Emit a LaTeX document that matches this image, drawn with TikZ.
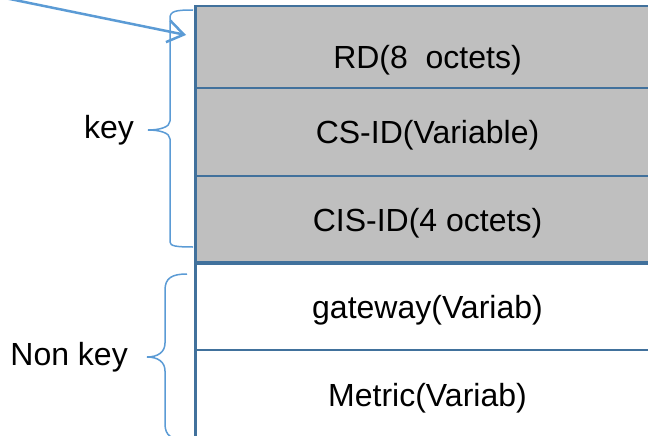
\documentclass[tikz,border=0pt]{standalone}
\usepackage{fontspec}
\setmainfont{Liberation Sans}
\usetikzlibrary{positioning,arrows.meta}
\definecolor{rowline}{HTML}{41719C}
\definecolor{rowgray}{HTML}{BFBFBF}
\definecolor{callout}{HTML}{5B9BD5}
\tikzset{
    field/.style={draw=rowline, line width=2.5pt, minimum width=465pt, inner sep=0pt,
        outer sep=0pt, anchor=north west, text height=23pt, text depth=0pt,
        font=\fontsize{32}{38}\selectfont},
    keyfield/.style={field, fill=rowgray},
    bracket/.style={draw=callout, line width=1.5pt},
    sidetext/.style={inner sep=0pt, font=\fontsize{32}{38}\selectfont},
}
\begin{document}
\begin{tikzpicture}[x=1pt,y=-1pt]
\useasboundingbox (0,0) rectangle (648,436);
% key fields
\node[keyfield, minimum height=82pt, text height=44pt] (rd) at (195,6) {RD(8\ \ octets)};
\node[keyfield, minimum height=88pt] (csid) at (rd.south west) {CS-ID(Variable)};
\node[keyfield, minimum height=87pt] (cisid) at (csid.south west) {CIS-ID(4 octets)};
% non key fields
\node[field, minimum height=87pt] (gateway) at (cisid.south west) {gateway(Variab)};
\node[field, minimum height=90pt] (metric) at (gateway.south west) {Metric(Variab)};
\draw[rowline, line width=4pt] (cisid.south west) -- (cisid.south east);
\draw[rowline, line width=3pt] (rd.north west) -- (metric.south west);

% braces
\coordinate (keytip) at (148,130);
\coordinate (nonkeytip) at (147,357);
\draw[bracket] (193,10) .. controls (176,10) and (170,11) .. (170,18) -- (170,121)
    .. controls (170,127) and (160,130) .. (keytip) .. controls (160,130) and (170,133) .. (170,139)
    -- (170,242) .. controls (170,246) and (176,247) .. (193,247);
\draw[bracket] (187,274) .. controls (172,274) and (165,278) .. (165,290) -- (165,343)
    .. controls (165,352) and (158,357) .. (nonkeytip) .. controls (158,357) and (165,362) .. (165,371)
    -- (165,424) .. controls (165,436) and (172,440) .. (187,440);
\node[sidetext, left=14pt of keytip] (keytext) {key};
\node[sidetext, left=19pt of nonkeytip] (nonkeytext) {Non key};

% pointer
\coordinate (pointer) at (0,-3);
\draw[callout, line width=2.5pt, -{Straight Barb[length=16pt, width=22pt]}]
    (pointer) -- ([shift={(-9,-12)}]rd.west);
\end{tikzpicture}
\end{document}
